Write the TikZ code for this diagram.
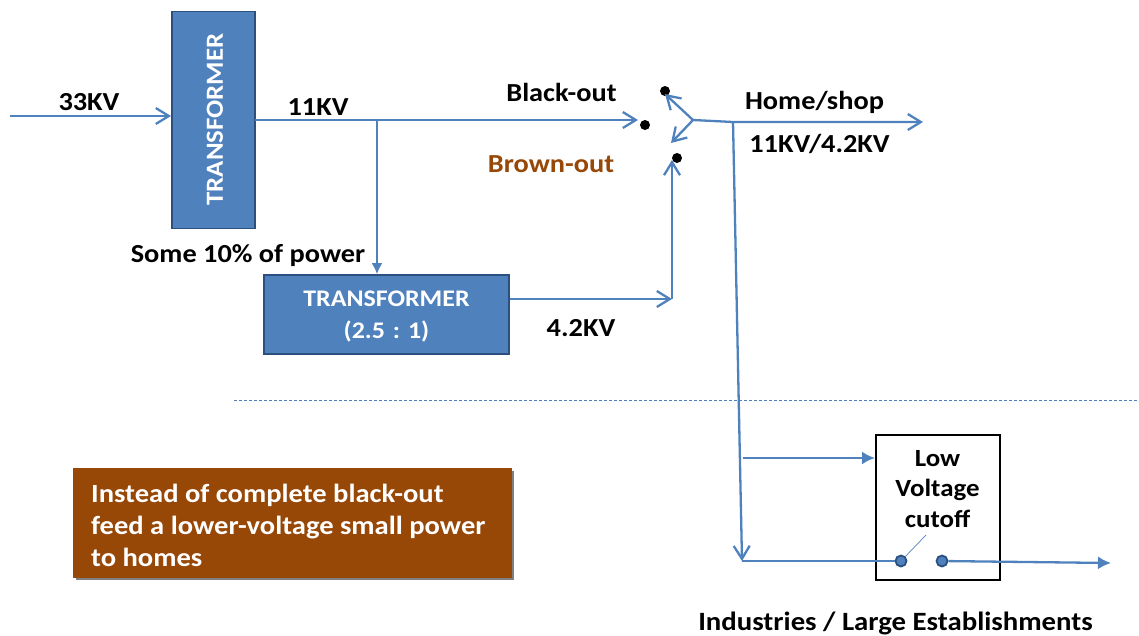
\documentclass[tikz,border=0pt]{standalone}
\usepackage{fontspec}
\setmainfont[FakeStretch=1.09]{Carlito}
\usepackage{tikz}
\usetikzlibrary{arrows.meta,positioning,calc}
\definecolor{ctW}{HTML}{4F81BD}
\definecolor{ctE}{HTML}{2B4F7F}
\definecolor{ctR}{HTML}{974706}
\tikzset{
  wire/.style={ctW,line width=2.3pt},
  thinwire/.style={ctW,line width=1.1pt},
  openarrow/.style={wire,-{Straight Barb[length=13pt,width=16pt,line width=2.3pt]}},
  label/.style={text=black,inner sep=0pt,font=\fontsize{26}{26}\selectfont\bfseries},
  xfmr/.style={draw=ctE,line width=1.6pt,fill=ctW,text=white,inner sep=0pt},
  contact/.style={circle,fill=black,inner sep=0pt,minimum size=10pt},
  pin/.style={circle,fill=ctW,draw=ctE,line width=1.8pt,inner sep=0pt,minimum size=11pt}
}
\begin{document}
\begin{tikzpicture}[x=1pt,y=-1pt]
  \useasboundingbox (0,0) rectangle (1139,635);
  % boxes
  \node[xfmr,minimum width=83pt,minimum height=217pt] (xfmrA) at (213.5,120) {};
  \node[text=white,rotate=90,font=\fontsize{24.6}{24.6}\selectfont\bfseries,inner sep=0pt] (xfmrAtxt) at (215,119.5) {TRANSFORMER};
  \node[xfmr,minimum width=245pt,minimum height=79pt,align=center,font=\fontsize{23.8}{33}\selectfont\bfseries] (xfmrB) at (386.5,314.5) {};
  \node[text=white,align=center,inner sep=0pt,font=\fontsize{23.8}{32.5}\selectfont\bfseries] (xfmrBtxt) at (386.5,316.5) {TRANSFORMER\\(2.5\,\,:\,\,1)};
  \node[draw=black,line width=2pt,minimum width=124pt,minimum height=145pt,inner sep=0pt] (cutoff) at (938,507.5) {};
  \node[align=center,font=\fontsize{24.7}{30.5}\selectfont\bfseries,inner sep=0pt] (cutofftxt) at (937.5,489) {Low\\Voltage\\cutoff};
  \fill[black!50] (76,471) rectangle (513.5,580);
  \node[fill=ctR,text=white,minimum width=439pt,minimum height=110pt,inner sep=0pt] (note) at (292.5,523) {};
  \node[text=white,align=left,anchor=north west,inner sep=0pt,font=\fontsize{26.2}{32}\selectfont\bfseries] (notetxt) at (91,484) {Instead of complete black-out\\feed a lower-voltage small power\\to homes};
  % labels
  \node[label] (lblA) at (89,102) {33KV};
  \node[label] (lblB) at (318,107) {11KV};
  \node[label] (lblC) at (561.5,92) {Black-out};
  \node[label,text=ctR] (lblD) at (551,164) {Brown-out};
  \node[label] (lblE) at (814.5,102) {Home/shop};
  \node[label] (lblF) at (819.5,144) {11KV/4.2KV};
  \node[label] (lblG) at (248,256) {Some 10\% of power};
  \node[label] (lblH) at (581,328) {4.2KV};
  \node[label,font=\fontsize{26.4}{26.4}\selectfont\bfseries] (lblI) at (895.5,623) {Industries / Large Establishments};
  % switch
  \node[contact] (blackpt) at (645,125) {};
  \node[contact] (homept) at (665,91) {};
  \node[contact] (brownpt) at (677,158) {};
  \node[pin] (pinA) at (901,561) {};
  \node[pin] (pinB) at (942,561) {};
  \coordinate (inA) at (10,116);
  \coordinate (outA) at (171,116);
  \coordinate (busA) at (255,120);
  \coordinate (tapA) at (377,120);
  \coordinate (swA) at (638,120);
  \coordinate (pivot) at (693,120);
  \coordinate (pivotA) at (665,94);
  \coordinate (pivotB) at (671,143);
  \coordinate (tapB) at (733,122);
  \coordinate (outB) at (923,122);
  \coordinate (downA) at (742,561);
  \coordinate (midA) at (743,458);
  \coordinate (riseA) at (672,299);
  \coordinate (riseB) at (672,160);
  \coordinate (outC) at (1111,563);
  \coordinate (leverA) at (926,535);
  \coordinate (dashA) at (234,400);
  \coordinate (dashB) at (1139,400);
  % connectors
  \draw[openarrow] (inA) -- (outA);
  \draw[openarrow] (busA) -- (swA);
  \draw[wire,-{Latex[length=11pt,width=11pt]}] (tapA) -- (tapA |- xfmrB.north);
  \draw[openarrow] (xfmrB.east |- riseA) -- (riseA);
  \draw[openarrow] (riseA) -- (riseB);
  \draw[openarrow] (pivot) -- (pivotA);
  \draw[openarrow] (pivot) -- (pivotB);
  \draw[openarrow] (pivot) -- (tapB) -- (outB);
  \draw[openarrow] (tapB) -- (downA);
  \draw[wire,-{Latex[length=13pt,width=13pt]}] (midA) -- (midA -| cutoff.west);
  \draw[thinwire] (downA) -- (pinA);
  \draw[thinwire,line width=0.7pt] (pinA) -- (leverA);
  \draw[wire,-{Latex[length=13pt,width=13pt]}] (pinB) -- (outC);
  \draw[thinwire,dash pattern=on 3pt off 2pt,line width=0.7pt] (dashA) -- (dashB);
\end{tikzpicture}
\end{document}
